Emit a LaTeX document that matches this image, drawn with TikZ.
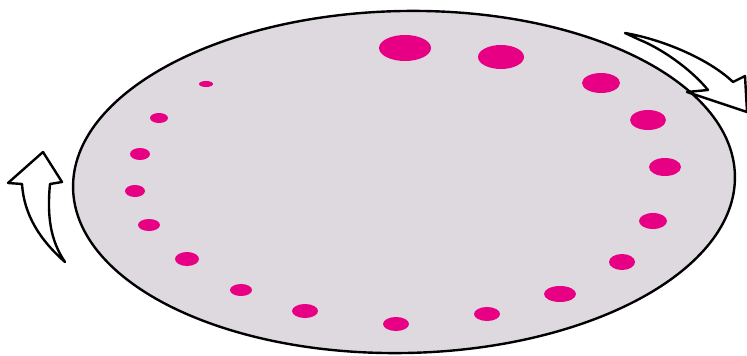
\documentclass[tikz,border=0pt]{standalone}
\definecolor{disc}{RGB}{221,217,223}
\definecolor{spot}{RGB}{232,0,132}
\begin{document}
\begin{tikzpicture}[x=1pt,y=-1pt,
  spotst/.style={fill=spot},
  outl/.style={draw=black,line width=2.4pt,line join=round}]
\useasboundingbox (0,0) rectangle (747,356);
\fill[white] (0,0) rectangle (747,356);
\clip (0,0) rectangle (747,356);
% disc
\begin{scope}[shift={(404,182)},rotate=1.1]
  \filldraw[fill=disc,line width=2.4pt] (0,0) ellipse [x radius=331,y radius=171];
\end{scope}
% spots
\foreach \cx/\cy/\rx/\ry in {
  405/48/26/13, 501/57/23/12, 601/83/19/10, 648/120/18/10,
  665/167/16/9, 653/221/14/8, 622/262/13/8, 560/294/16/8,
  487/314/13/7, 396/324/13/7, 305/311/13/7, 241/290/11/6,
  187/259/12/7, 149/225/11/6, 135/191/10/6, 140/154/10/6,
  159/118/9/5, 206/84/7/3}
  \fill[spotst] (\cx,\cy) ellipse [x radius=\rx,y radius=\ry];
% right rotation arrow
\draw[outl,fill=white] (625,33) .. controls (665,40) and (710,60) .. (733,82)
  -- (745,76) -- (747,112) -- (687,92) -- (708,90)
  .. controls (690,68) and (660,48) .. (640,40) -- cycle;
% left rotation arrow
\draw[outl,fill=white] (65,262) .. controls (40,240) and (24,215) .. (22,184)
  -- (8,183) -- (43,152) -- (62,182) -- (50,184)
  .. controls (47,215) and (50,240) .. (65,262) -- cycle;
\end{tikzpicture}
\end{document}
